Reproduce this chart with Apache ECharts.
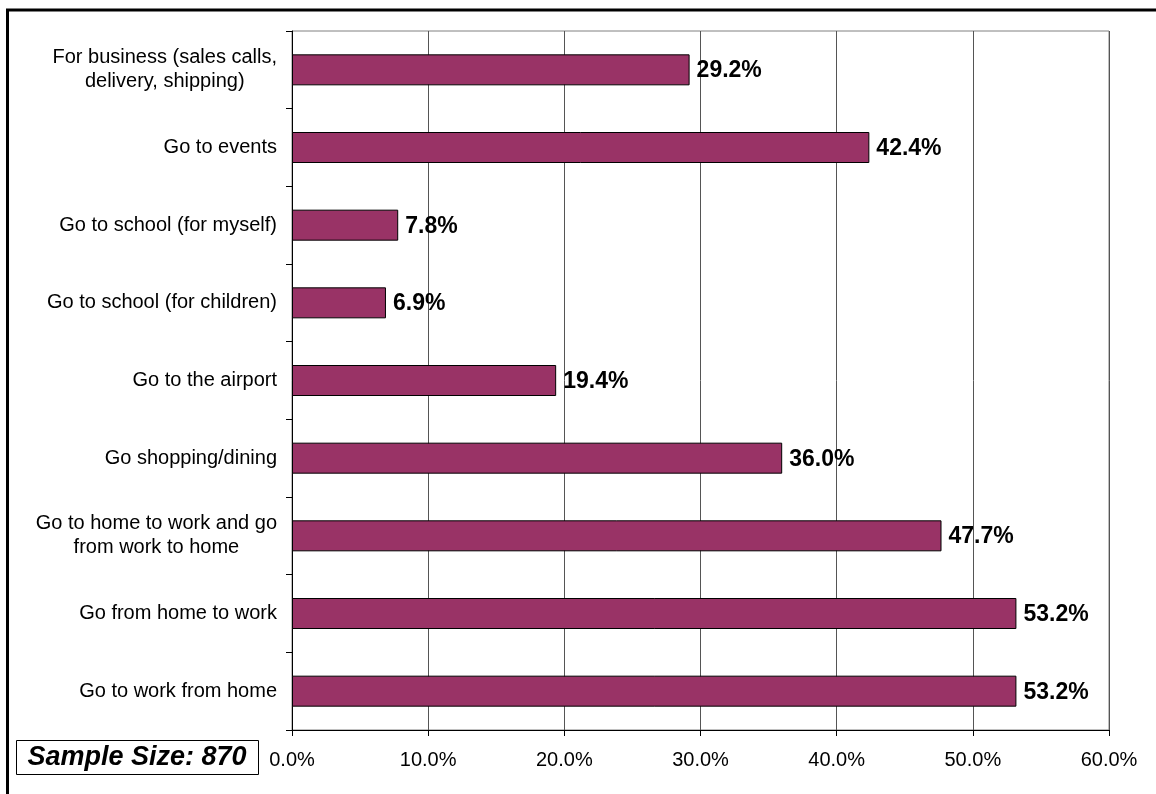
<!DOCTYPE html>
<html>
<head>
<meta charset="utf-8">
<script src="https://cdn.jsdelivr.net/npm/echarts@6/dist/echarts.min.js"></script>
<style>
  html, body { margin: 0; padding: 0; background: #fff; }
  #chart { width: 1156px; height: 794px; }
</style>
</head>
<body>
<div id="chart"></div>
<script>
// Trip purposes, listed top to bottom
const categories = [
  'For business (sales calls,\ndelivery, shipping)',
  'Go to events',
  'Go to school (for myself)',
  'Go to school (for children)',
  'Go to the airport',
  'Go shopping/dining',
  'Go to home to work and go\nfrom work to home',
  'Go from home to work',
  'Go to work from home'
];
// Share of respondents, percent
const shares = [29.2, 42.4, 7.8, 6.9, 19.4, 36.0, 47.7, 53.2, 53.2];
const sampleNote = 'Sample Size: 870';

const chart = echarts.init(document.getElementById('chart'), null, { renderer: 'canvas' });
const FONT = 'Arial, "Liberation Sans", sans-serif';

chart.setOption({
  backgroundColor: '#ffffff',
  animation: false,
  grid: {
    left: 292, top: 31, right: 47, bottom: 64,
    show: true, borderColor: '#808080', borderWidth: 1, backgroundColor: 'transparent'
  },
  xAxis: {
    type: 'value',
    min: 0, max: 60, interval: 10,
    axisLine: { show: true, lineStyle: { color: '#000', width: 1 } },
    axisTick: { show: true, length: 6, lineStyle: { color: '#000' } },
    splitLine: { show: true, lineStyle: { color: '#555', width: 1 } },
    axisLabel: {
      margin: 20,
      color: '#000',
      fontFamily: FONT,
      fontSize: 20,
      formatter: v => v.toFixed(1) + '%'
    }
  },
  yAxis: {
    type: 'category',
    inverse: true,
    data: categories,
    axisLine: { show: true, lineStyle: { color: '#000', width: 1 } },
    axisTick: { show: true, length: 6, alignWithLabel: false, lineStyle: { color: '#000' } },
    splitLine: { show: false },
    axisLabel: {
      margin: 15,
      color: '#000',
      fontFamily: FONT,
      fontSize: 20,
      lineHeight: 24,
      formatter: v => v.split('\n').map(l => '{c|' + l + '}').join('\n'),
      rich: {
        c: { align: 'center', fontFamily: FONT, fontSize: 20, lineHeight: 24, color: '#000' }
      }
    }
  },
  series: [{
    type: 'bar',
    data: shares,
    barWidth: 31,
    itemStyle: { color: '#993366', borderColor: '#000', borderWidth: 1 },
    label: {
      show: true,
      position: 'right',
      distance: 7,
      offset: [0, 1],
      color: '#000',
      fontFamily: FONT,
      fontWeight: 'bold',
      fontSize: 23,
      formatter: p => p.value.toFixed(1) + '%'
    }
  }],
  graphic: [
    {
      type: 'rect',
      shape: { x: 7.5, y: 10, width: 1300, height: 900 },
      style: { fill: 'none', stroke: '#000', lineWidth: 3 },
      silent: true
    },
    {
      type: 'rect',
      shape: { x: 16.5, y: 740.5, width: 242, height: 34 },
      style: { fill: '#fff', stroke: '#000', lineWidth: 1 }
    },
    {
      type: 'text',
      x: 137, y: 758,
      style: {
        text: sampleNote,
        fill: '#000',
        font: 'italic bold 27px ' + FONT,
        textAlign: 'center',
        textVerticalAlign: 'middle'
      }
    }
  ]
});
</script>
</body>
</html>
